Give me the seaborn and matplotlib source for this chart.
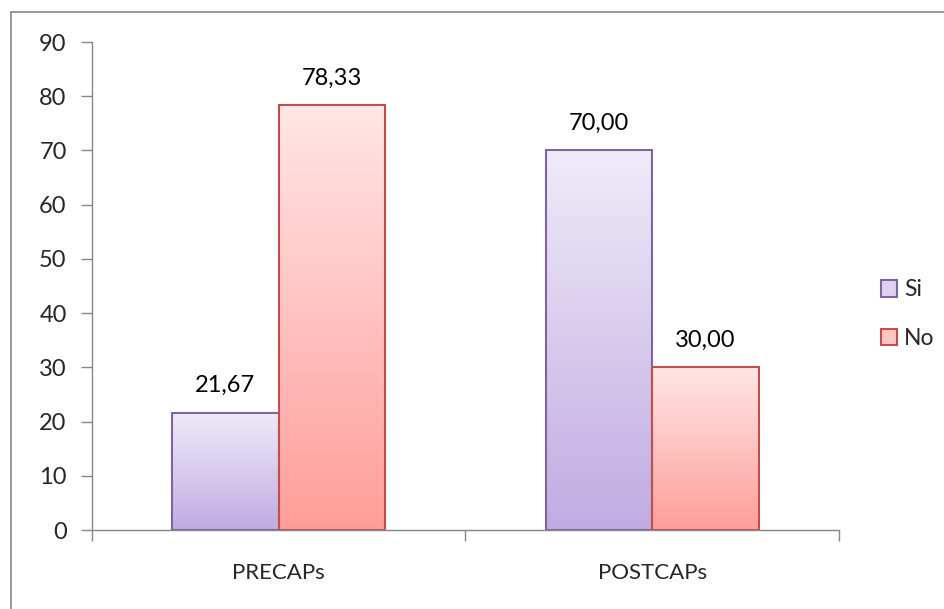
import numpy as np
import pandas as pd
import matplotlib
matplotlib.use("Agg")
import matplotlib.pyplot as plt
import seaborn as sns
from matplotlib.colors import LinearSegmentedColormap
from matplotlib.patches import Patch
from matplotlib.lines import Line2D

categories = ["PRECAPs", "POSTCAPs"]
series_names = ["Si", "No"]
si_values = [21.67, 70.00]
no_values = [78.33, 30.00]
y_ticks = [0, 10, 20, 30, 40, 50, 60, 70, 80, 90]

df = pd.DataFrame({
    "cat": categories * 2,
    "serie": [series_names[0]] * 2 + [series_names[1]] * 2,
    "val": si_values + no_values,
})

sns.set_style("white")
plt.rcParams["font.family"] = ["Lato", "DejaVu Sans"]

fig = plt.figure(figsize=(9.45, 6.09), dpi=100)
ax = fig.add_axes([0.097, 0.1297, 0.888 - 0.097, 0.931 - 0.1297])

edge_cols = {"Si": "#8064A2", "No": "#C0504D"}
grad = {"Si": ("#C0ACE2", "#EFEBF8"), "No": ("#FF9E9A", "#FFE6E6")}

sns.barplot(data=df, x="cat", y="val", hue="serie", order=categories,
            hue_order=series_names, width=0.57, palette=["#DDD3EF", "#FFC4C4"],
            ax=ax, legend=False, saturation=1)

ax.set_ylim(0, 90)
ax.set_xlim(-0.5, 1.5)

bars = list(ax.patches)
for i, p in enumerate(bars):
    serie = series_names[i // len(categories)]
    x, w, h = p.get_x(), p.get_width(), p.get_height()
    cmap = LinearSegmentedColormap.from_list("g", [grad[serie][0], grad[serie][1]])
    g = np.linspace(0, 1, 256).reshape(-1, 1)
    ax.imshow(g, extent=[x, x + w, 0, h], origin="lower", aspect="auto",
              cmap=cmap, zorder=1.5, interpolation="bicubic")
    p.set_facecolor("none")
    p.set_edgecolor(edge_cols[serie])
    p.set_linewidth(1.5)
    p.set_zorder(2)
    ax.annotate(f"{h:.2f}".replace(".", ","), (x + w / 2, h),
                xytext=(0, 12), textcoords="offset points",
                ha="center", va="bottom", fontsize=17, color="black")

ax.set_xlim(-0.5, 1.5)
ax.set_ylim(0, 90)
ax.set_yticks(y_ticks)
ax.set_yticklabels([str(t) for t in y_ticks])
ax.set_xticks([0, 1])
ax.set_xticklabels(categories)
ax.set_xticks([-0.5, 0.5, 1.5], minor=True)
ax.tick_params(axis="x", which="major", length=0, pad=24, labelsize=16)
ax.tick_params(axis="x", which="minor", length=8, width=1, color="#868686", direction="out", bottom=True)
ax.tick_params(axis="y", which="major", length=8, width=1, color="#868686", direction="out", left=True, labelsize=17, pad=10)
ax.set_xlabel("")
ax.set_ylabel("")
for s in ["top", "right"]:
    ax.spines[s].set_visible(False)
for s in ["left", "bottom"]:
    ax.spines[s].set_color("#868686")
    ax.spines[s].set_linewidth(1)

handles = [Patch(facecolor="#DDD3EF", edgecolor=edge_cols["Si"], linewidth=1.5, label="Si"),
           Patch(facecolor="#FFC4C4", edgecolor=edge_cols["No"], linewidth=1.5, label="No")]
fig.legend(handles=handles, loc="center left", bbox_to_anchor=(0.932, 0.484),
           frameon=False, fontsize=16.5, handlelength=0.72, handleheight=0.72,
           handletextpad=0.3, labelspacing=1.2, borderaxespad=0, borderpad=0)

# chart-area border (top and left edges visible)
fig.add_artist(Line2D([11 / 945, 11 / 945], [0, 1 - 12 / 609], transform=fig.transFigure,
                      color="#868686", linewidth=1.2))
fig.add_artist(Line2D([11 / 945, 1], [1 - 12 / 609, 1 - 12 / 609], transform=fig.transFigure,
                      color="#868686", linewidth=1.2))

fig.savefig("out.png", dpi=100)
